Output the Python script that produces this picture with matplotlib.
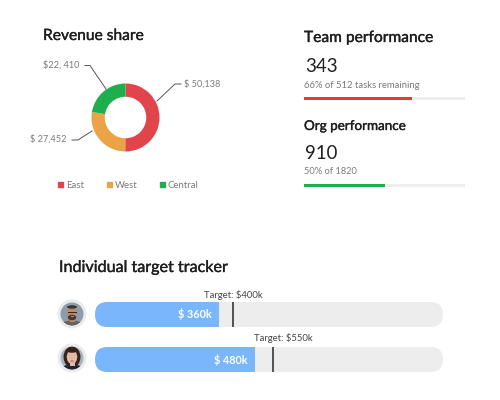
import matplotlib
matplotlib.use("Agg")
import matplotlib.pyplot as plt
import matplotlib.patheffects as pe
from matplotlib.lines import Line2D
from matplotlib.patches import Circle, Ellipse, FancyBboxPatch, Rectangle
from matplotlib.transforms import Affine2D

plt.rcParams["font.family"] = ["Lato", "DejaVu Sans"]

regions = ["East", "West", "Central"]
revenue = [50138, 27452, 22410]
revenue_labels = ["$ 50,138", "$ 27,452", "$22, 410"]
region_colors = ["#E2444B", "#EBA445", "#1FAE4D"]

perf_values = [67, 50]
perf_colors = ["#E8383F", "#1FAE4D"]

# fill and target as percent of the track
tracker_amounts = ["$ 360k", "$ 480k"]
tracker_fill = [35.6, 46.0]
tracker_target = [39.7, 51.1]
target_labels = ["Target: $400k", "Target: $550k"]

W, H = 500, 400
DARK = "#1E1E1E"
GREY = "#7A7A7A"
TRACK = "#EDEDED"

fig = plt.figure(figsize=(5, 4), dpi=100)


def px_axes(x0, y0, x1, y1):
    # axes from a pixel box, y counted from the top
    ax = fig.add_axes([x0 / W, 1 - y1 / H, (x1 - x0) / W, (y1 - y0) / H])
    ax.axis("off")
    return ax


def px_text(x, y, s, size, color=DARK, ha="left", weight="normal"):
    return fig.text(x / W, 1 - y / H, s, fontsize=size, color=color, ha=ha, va="center", fontweight=weight)


def heading(x, y, s, size):
    # thin stroke to get the medium weight
    t = px_text(x, y, s, size)
    t.set_path_effects([pe.withStroke(linewidth=0.25, foreground=DARK)])


# donut
heading(43, 36, "Revenue share", 11.2)
R = 34
ax = px_axes(0, 40, 250, 195)
ax.pie(revenue, colors=region_colors, startangle=90, counterclock=False, radius=1,
       wedgeprops=dict(width=0.39, linewidth=0))
ax.set_xlim(-125.5 / R, 124.5 / R)
ax.set_ylim(-77.5 / R, 77.5 / R)
ax.set_aspect("equal")

leaders = [
    ([157, 175, 181], [101, 84, 84], 184, 84, "left"),
    ([92, 78, 72], [131, 140, 140], 67, 139, "right"),
    ([106, 90, 85], [89, 65.5, 65.5], 79, 65, "right"),
]
for (lx, ly, tx, ty, ha), label in zip(leaders, revenue_labels):
    ax.plot([(v - 125.5) / R for v in lx], [(117.5 - v) / R for v in ly], color="#555555", lw=0.7, clip_on=False)
    px_text(tx, ty, label, 6.6, GREY, ha=ha)

handles = [Line2D([], [], marker="s", ls="", ms=3.6, color=c) for c in region_colors]
fig.legend(handles, regions, loc="center", bbox_to_anchor=(128 / W, 1 - 185 / H), ncol=3, frameon=False,
           fontsize=6.9, labelcolor=GREY, handletextpad=0.3, columnspacing=2.3, handlelength=0.6)

# performance blocks
heading(304, 38, "Team performance", 11.2)
px_text(305, 67, "343", 13.4)
px_text(304, 85, "66% of 512 tasks remaining", 6.8, GREY)
heading(304, 126, "Org performance", 9.7)
px_text(305, 153.5, "910", 13.4)
px_text(304, 171, "50% of 1820", 6.7, GREY)

for ytop, val, col in zip([97, 184], perf_values, perf_colors):
    ax = px_axes(304, ytop, 465, ytop + 3)
    ax.barh([0], [100], height=1, color="#EEEEEE")
    ax.barh([0], [val], height=1, color=col)
    ax.set_xlim(0, 100)
    ax.set_ylim(-0.5, 0.5)

# target tracker
heading(59, 268, "Individual target tracker", 11.6)

rows = [(302, 327), (347, 372)]
label_x = [204, 254]
label_y = [295, 338]
for i, (y0, y1) in enumerate(rows):
    ax = px_axes(95, y0, 443, y1)
    ax.set_xlim(0, 100)
    ax.set_ylim(-0.5, 0.5)
    ax.barh([0], [100], height=1, color=TRACK)
    ax.barh([0], [tracker_fill[i]], height=1, color="#7AB6FB")
    ax.barh([0], [0.5], left=tracker_target[i] - 0.25, height=1, color="#555555")
    # rounded ends on the track
    clip = FancyBboxPatch((95, H - y1), 348, y1 - y0, boxstyle="round,pad=0,rounding_size=12.5")
    clip.set_transform(Affine2D().scale(fig.bbox.width / W, fig.bbox.height / H))
    for p in ax.patches:
        p.set_clip_path(clip)
    px_text(95 + 3.48 * tracker_fill[i] - 7, (y0 + y1) / 2, tracker_amounts[i], 7.8, "white", ha="right", weight="bold")
    px_text(label_x[i], label_y[i], target_labels[i], 6.8, "#444444")


def avatar(cx, cy, skin, hair, shirt, bg, long_hair):
    ax = px_axes(cx - 15, cy - 15, cx + 15, cy + 15)
    ax.set_xlim(-15, 15)
    ax.set_ylim(-15, 15)
    ax.add_patch(Circle((0, 0), 14.5, color="#EBEBEB", lw=0))
    disc = Circle((0, 0), 11.5, color=bg, lw=0)
    ax.add_patch(disc)
    parts = []
    if long_hair:
        parts.append(Ellipse((0, 1), 17, 21, color=hair, lw=0))
    parts.append(Ellipse((0, -12), 24, 11, color=shirt, lw=0))
    parts.append(Rectangle((-2.5, -8), 5, 6, color=skin, lw=0))
    parts.append(Ellipse((0, 1), 10.5, 14, color=skin, lw=0))
    parts.append(Ellipse((0, 7), 10, 3.5, color=hair, lw=0))
    if long_hair:
        parts.append(Ellipse((0, -3), 3.5, 1.1, color="#B5524F", lw=0))
    else:
        parts.append(Ellipse((0, -3.5), 8.5, 5.5, color="#4A3A32", lw=0))
        parts.append(Rectangle((-1.5, -2.8), 3, 1, color=skin, lw=0))
        parts.append(Rectangle((-4.5, 1.5), 9, 0.9, color="#2A2A2A", lw=0))
    for p in parts:
        ax.add_patch(p)
        p.set_clip_path(disc)


avatar(72, 314, "#B98B6F", "#3A3632", "#6B625A", "#8E9DAB", False)
avatar(72, 358, "#E3B9A4", "#33231D", "#1E2430", "#A9B4BE", True)

fig.savefig("out.png", dpi=100, facecolor="white")
